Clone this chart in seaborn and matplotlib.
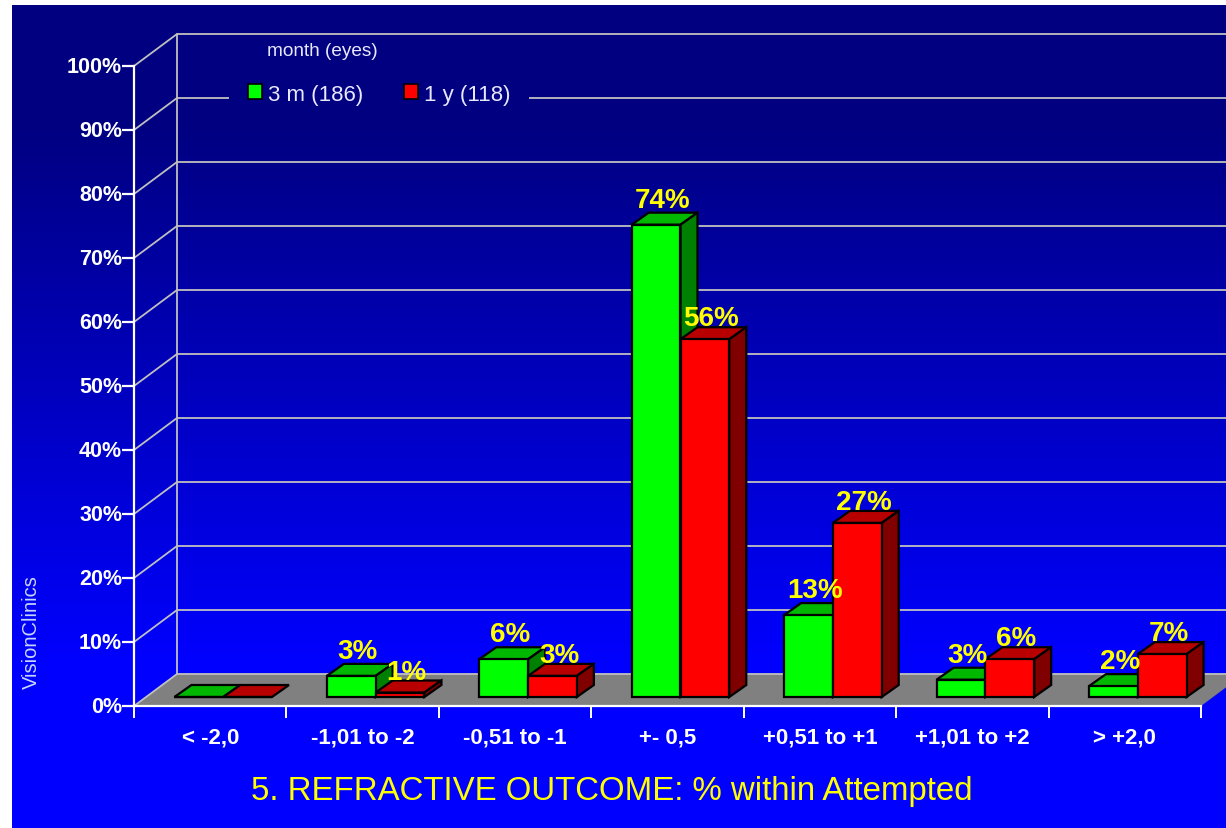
import numpy as np
import pandas as pd
import seaborn as sns
import matplotlib.pyplot as plt
import matplotlib.colors as mcolors
from matplotlib.patches import Polygon, Patch
from matplotlib.transforms import ScaledTranslation

categories = ["< -2,0", "-1,01 to -2", "-0,51 to -1", "+- 0,5", "+0,51 to +1", "+1,01 to +2", "> +2,0"]
three_months = [0.0, 3.3, 5.9, 73.8, 12.8, 2.7, 1.7]
one_year = [0.0, 0.7, 3.3, 55.9, 27.2, 5.9, 6.7]
series_names = ["3 m (186)", "1 y (118)"]
y_ticks = [0, 10, 20, 30, 40, 50, 60, 70, 80, 90, 100]

W, H = 1226, 829
front = {"3 m (186)": "#00ff00", "1 y (118)": "#ff0000"}
top = {"3 m (186)": "#00b800", "1 y (118)": "#b80000"}
side = {"3 m (186)": "#008000", "1 y (118)": "#800000"}
label_lift = {"3 m (186)": 4.3, "1 y (118)": 1.4}

sns.set_theme(style="white")
plt.rcParams["font.family"] = ["Liberation Sans", "DejaVu Sans"]

df = pd.DataFrame({
    "group": categories * 2,
    "series": [series_names[0]] * 7 + [series_names[1]] * 7,
    "value": three_months + one_year,
})

fig = plt.figure(figsize=(W / 100, H / 100), dpi=100, facecolor="white")

# background gradient, navy at the top to full blue near the floor
bg = fig.add_axes([12 / W, 0, 1 - 12 / W, 1 - 6 / H])
grad_cmap = mcolors.LinearSegmentedColormap.from_list(
    "bg", [(0, "#000080"), (0.14, "#000080"), (0.8, "#0000ff"), (1, "#0000ff")]
)
bg.imshow(np.linspace(0, 1, 256).reshape(-1, 1), aspect="auto", cmap=grad_cmap)
bg.axis("off")

# main axes: front edge of the floor and the left axis
ax = fig.add_axes([134 / W, (H - 707) / H, 1067 / W, 640 / H], facecolor="none")
ax.set_xlim(-0.5, 6.5)
ax.set_ylim(0, 100)
cat_px = 1067 / 7
pct_px = 6.4
wall_dx = 43 / cat_px
wall_dy = 32 / pct_px

ax.add_patch(Polygon(
    [(-0.5, 0), (-0.5 + wall_dx, wall_dy), (6.5 + wall_dx, wall_dy), (6.5, 0)],
    closed=True, facecolor="#808080", edgecolor="none", clip_on=False, zorder=1,
))
grid_col = "#c0c0c0"
for t in y_ticks:
    ax.plot([-0.5, -0.5 + wall_dx, 6.5 + wall_dx], [t, t + wall_dy, t + wall_dy],
            color=grid_col, lw=1.3, clip_on=False, zorder=1.5)
ax.plot([-0.5 + wall_dx] * 2, [wall_dy, 100 + wall_dy], color=grid_col, lw=1.3, clip_on=False, zorder=1.5)

ax.set_yticks(y_ticks)
ax.set_yticklabels([f"{t}%" for t in y_ticks], fontsize=15.5, fontweight="bold", color="white")
ax.set_xticks(np.arange(-0.5, 7, 1))
ax.set_xticklabels([])
ax.set_xticks(np.arange(7), minor=True)
ax.set_xticklabels(categories, minor=True, fontsize=16, fontweight="bold", color="white")
ax.tick_params(axis="y", left=True, colors="white", length=8.5, width=1.6, pad=0)
ax.tick_params(axis="x", which="major", bottom=True, colors="white", length=8.5, width=1.4)
ax.tick_params(axis="x", which="minor", bottom=False, length=0, pad=15, labelcolor="white")
# tick labels sit a touch above their ticks in the original
nudge = ScaledTranslation(0, 2 / 100, fig.dpi_scale_trans)
for lab in ax.get_yticklabels():
    lab.set_transform(lab.get_transform() + nudge)
sns.despine(ax=ax)
for s in ["left", "bottom"]:
    ax.spines[s].set_color("white")
    ax.spines[s].set_linewidth(1.6)
    ax.spines[s].set_zorder(2)

# bars sit on the floor, a little behind the front edge
bar_ax = fig.add_axes([(134 + 13) / W, (H - 698) / H, 1067 / W, 640 / H], facecolor="none")
sns.barplot(data=df, x="group", y="value", hue="series", order=categories, hue_order=series_names,
            palette=front, width=0.64, gap=0, edgecolor="black", linewidth=1.6, saturation=1,
            legend=False, ax=bar_ax)
bar_ax.set_xlim(-0.5, 6.5)
bar_ax.set_ylim(0, 100)
bar_ax.axis("off")

dx = 17 / cat_px
dy = 12 / pct_px
for i, (name, bars) in enumerate(zip(series_names, bar_ax.containers)):
    z = 3 + 2 * i
    for bar in bars:
        x0, w, h = bar.get_x(), bar.get_width(), bar.get_height()
        x1 = x0 + w
        bar.set_zorder(z + 1)
        bar.set_clip_on(False)
        bar_ax.add_patch(Polygon([(x0, h), (x0 + dx, h + dy), (x1 + dx, h + dy), (x1, h)], closed=True,
                                 facecolor=top[name], edgecolor="black", lw=1.6, clip_on=False, zorder=z))
        if h > 0:
            bar_ax.add_patch(Polygon([(x1, 0), (x1 + dx, dy), (x1 + dx, h + dy), (x1, h)], closed=True,
                                     facecolor=side[name], edgecolor="black", lw=1.6, clip_on=False, zorder=z))
            bar_ax.annotate(f"{round(h)}%", (x0 + w / 2 + dx / 2, h + dy),
                            xytext=(-1.4, label_lift[name]), textcoords="offset points",
                            ha="center", va="baseline", fontsize=20, fontweight="bold",
                            color="#ffff00", zorder=10, annotation_clip=False)

handles = [Patch(facecolor=front[n], edgecolor="black", lw=1.2, label=n) for n in series_names]
leg = fig.legend(handles=handles, loc="center left", bbox_to_anchor=(229 / W, 1 - 95 / H),
                 bbox_transform=fig.transFigure, ncol=2, fontsize=16, frameon=True,
                 facecolor="#000080", edgecolor="none", fancybox=False, framealpha=1,
                 borderpad=0.85, borderaxespad=0, handlelength=0.64, handleheight=0.64,
                 handletextpad=0.25, columnspacing=1.84)
for t in leg.get_texts():
    t.set_color("#e8e8ff")

fig.text(267 / W, 1 - 51 / H, "month (eyes)", fontsize=13.7, color="#e8e8ff", va="center", ha="left")
fig.text(31 / W, 1 - 632 / H, "VisionClinics", fontsize=14.5, color="#c8d4ff", rotation=90,
         va="center", ha="center")
fig.text(611.5 / W, 1 - 792 / H, "5. REFRACTIVE OUTCOME: % within Attempted", fontsize=23.8,
         color="#ffff00", va="center", ha="center")

fig.savefig("out.png", dpi=100)
